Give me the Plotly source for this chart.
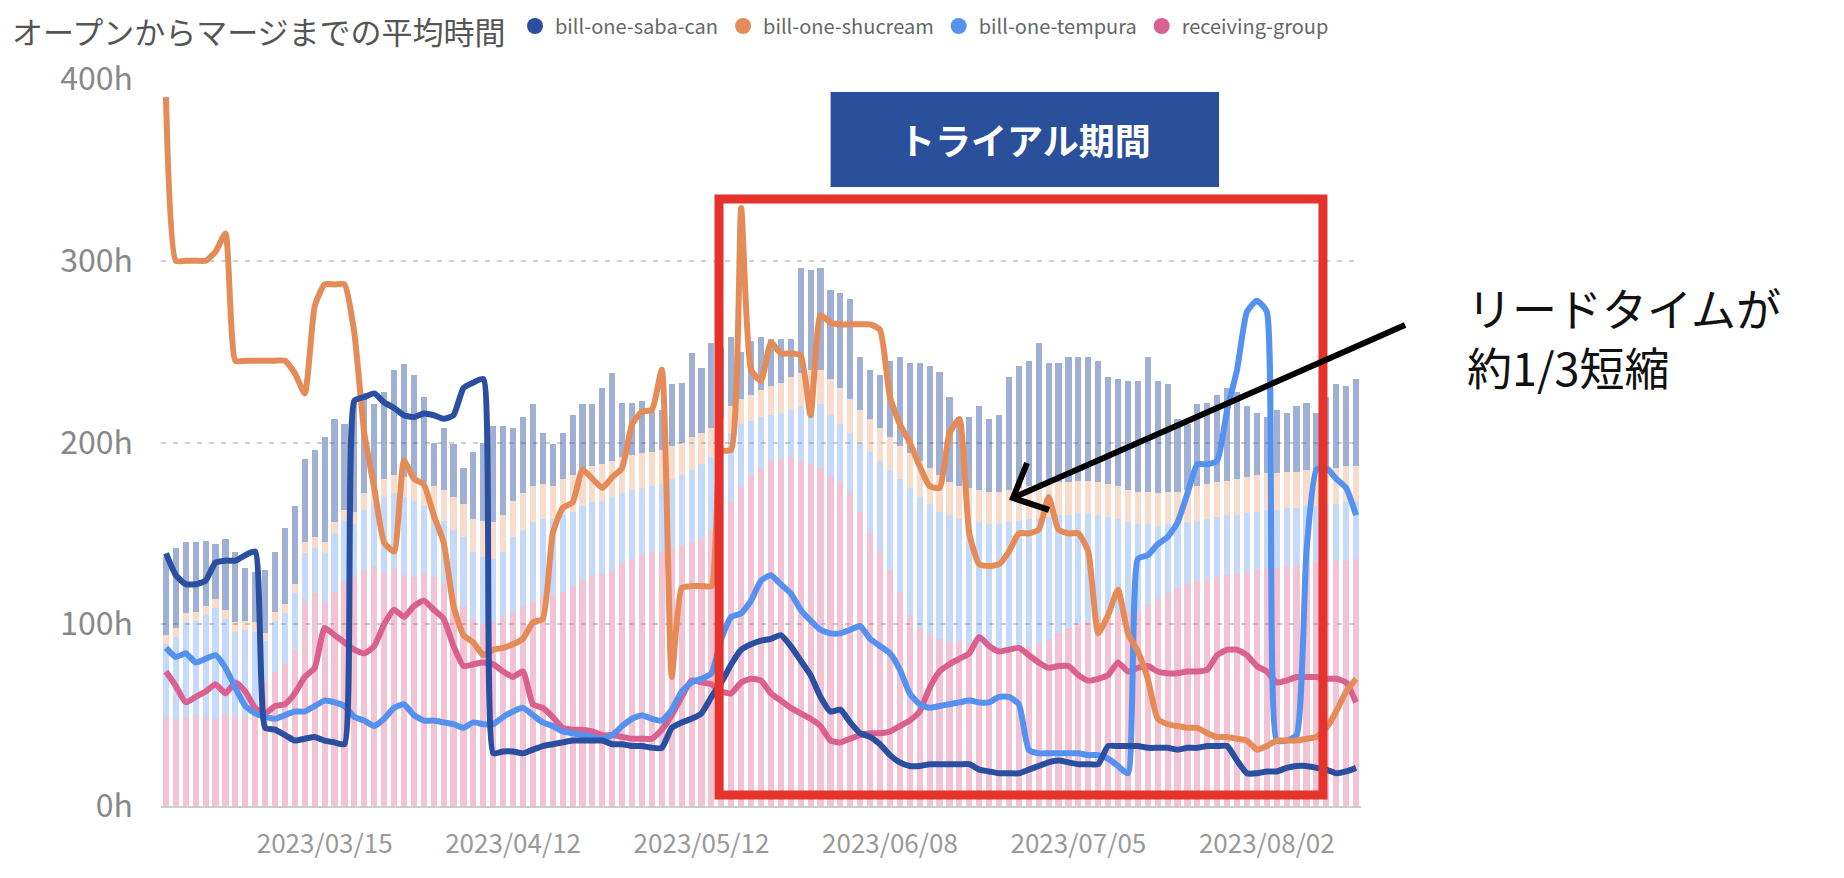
import pandas as pd
import plotly.graph_objects as go


# ------------ Data ------------
# business days (weekends and JP holidays are not in the chart)
holidays = ["2023-02-23", "2023-03-21", "2023-05-03", "2023-05-04", "2023-05-05", "2023-07-17", "2023-08-11"]
days = [d for d in pd.bdate_range("2023-02-20", "2023-08-16") if d.strftime("%Y-%m-%d") not in holidays]
dates = [d.strftime("%Y/%m/%d") for d in days]

tick_labels = ["2023/03/15", "2023/04/12", "2023/05/12", "2023/06/08", "2023/07/05", "2023/08/02"]
y_ticks = [0, 100, 200, 300, 400]
y_tick_text = ["0h", "100h", "200h", "300h", "400h"]

teams = ["bill-one-saba-can", "bill-one-shucream", "bill-one-tempura", "receiving-group"]

# lines: average hours from open to merge
saba_line = [139, 127, 122, 122, 124, 134, 135, 135, 138, 140,
             43, 42, 39, 36, 37, 38, 36, 35, 34, 223,
             225, 227, 222, 219, 215, 214, 216, 215, 213, 215,
             230, 233, 235, 29, 30, 30, 29, 31, 33, 34,
             35, 36, 36, 36, 36, 34, 34, 33, 33, 32,
             32, 43, 46, 48, 51, 60, 68, 78, 86, 89,
             91, 92, 94, 88, 80, 72, 60, 52, 53, 46,
             40, 38, 34, 28, 24, 22, 22, 23, 23, 23,
             23, 23, 20, 19, 18, 18, 18, 20, 22, 24,
             25, 24, 23, 23, 23, 33, 33, 33, 33, 32,
             32, 32, 31, 32, 32, 33, 33, 33, 25, 18,
             18, 19, 19, 21, 22, 22, 21, 20, 18, 19,
             21]
shucream_line = [390, 300, 300, 300, 300, 305, 315, 245, 245, 245,
                 245, 245, 245, 238, 227, 275, 287, 287, 287, 260,
                 205, 175, 145, 140, 190, 180, 177, 160, 145, 110,
                 94, 90, 83, 86, 87, 89, 92, 101, 103, 150,
                 164, 167, 185, 180, 175, 181, 186, 210, 217, 218,
                 240, 71, 120, 121, 121, 121, 195, 196, 329, 240,
                 234, 255, 249, 249, 248, 215, 270, 266, 265, 265,
                 265, 265, 262, 225, 210, 200, 187, 176, 175, 205,
                 213, 150, 133, 132, 133, 140, 150, 150, 152, 170,
                 152, 150, 150, 140, 95, 105, 119, 95, 85, 70,
                 48, 45, 44, 43, 43, 40, 38, 38, 37, 36,
                 31, 33, 36, 36, 36, 37, 38, 43, 52, 63,
                 70]
tempura_line = [87, 82, 84, 79, 81, 83, 76, 65, 55, 51,
                49, 48, 50, 52, 52, 55, 58, 57, 55, 49,
                47, 44, 48, 54, 56, 50, 47, 47, 46, 45,
                43, 46, 45, 45, 49, 52, 54, 50, 46, 44,
                41, 40, 39, 38, 37, 39, 44, 48, 50, 48,
                47, 53, 63, 68, 70, 73, 92, 104, 106, 113,
                124, 127, 122, 117, 108, 102, 97, 95, 95, 97,
                99, 92, 88, 84, 75, 62, 56, 54, 55, 56,
                57, 58, 57, 57, 60, 60, 56, 31, 29, 29,
                29, 29, 29, 28, 28, 26, 22, 18, 136, 138,
                144, 148, 156, 172, 188, 188, 190, 218, 240, 272,
                278, 272, 36, 36, 39, 140, 185, 186, 180, 175,
                160]
receiving_line = [74, 66, 57, 60, 63, 67, 62, 68, 63, 54,
                  51, 55, 56, 62, 71, 76, 98, 94, 90, 86,
                  84, 88, 100, 108, 104, 110, 113, 108, 103, 88,
                  77, 78, 79, 78, 74, 71, 74, 56, 54, 49,
                  43, 42, 42, 41, 39, 39, 38, 37, 37, 37,
                  42, 50, 60, 69, 68, 67, 63, 62, 68, 70,
                  69, 62, 58, 54, 51, 48, 44, 36, 35, 37,
                  39, 40, 40, 41, 44, 47, 52, 65, 74, 78,
                  81, 84, 93, 88, 85, 86, 87, 83, 79, 76,
                  77, 77, 72, 69, 70, 72, 79, 74, 76, 77,
                  74, 73, 73, 74, 74, 75, 83, 86, 86, 83,
                  77, 74, 68, 69, 71, 71, 71, 70, 70, 68,
                  57]

# stacked bars (faded)
receiving_bar = [49, 48, 49, 50, 49, 48, 50, 49, 50, 55,
                 68, 74, 78, 86, 113, 117, 112, 118, 124, 126,
                 130, 132, 128, 131, 127, 126, 128, 126, 122, 117,
                 110, 103, 100, 102, 104, 107, 110, 112, 115, 116,
                 118, 121, 124, 127, 128, 130, 133, 136, 138, 140,
                 140, 142, 143, 145, 147, 152, 161, 168, 176, 182,
                 186, 190, 191, 192, 190, 188, 186, 182, 178, 172,
                 162, 150, 140, 130, 118, 105, 98, 94, 92, 90,
                 90, 89, 88, 87, 87, 87, 88, 88, 89, 92,
                 95, 98, 100, 102, 104, 105, 106, 107, 108, 111,
                 114, 117, 120, 122, 124, 125, 126, 127, 128, 129,
                 130, 131, 131, 132, 132, 133, 134, 134, 135, 135,
                 136]
tempura_bar = [40, 45, 52, 52, 56, 61, 53, 47, 47, 41,
               23, 28, 28, 31, 26, 25, 27, 32, 33, 29,
               33, 34, 42, 41, 43, 42, 37, 34, 35, 35,
               38, 37, 37, 34, 36, 41, 42, 44, 43, 42,
               42, 41, 41, 40, 40, 40, 39, 38, 37, 36,
               37, 38, 39, 40, 41, 40, 37, 37, 34, 30,
               28, 25, 25, 26, 30, 34, 35, 33, 32, 33,
               38, 45, 50, 55, 62, 70, 72, 72, 70, 70,
               68, 68, 68, 68, 68, 69, 69, 70, 69, 67,
               65, 62, 61, 59, 56, 54, 52, 49, 47, 44,
               40, 38, 35, 34, 33, 33, 33, 33, 32, 32,
               32, 32, 32, 32, 32, 32, 31, 32, 31, 32,
               31]
shucream_bar = [5, 5, 5, 5, 5, 5, 5, 5, 5, 5,
                4, 5, 5, 5, 6, 6, 6, 6, 6, 7,
                9, 9, 10, 10, 11, 12, 13, 16, 17, 18,
                18, 18, 20, 20, 20, 20, 20, 20, 19, 18,
                20, 20, 20, 20, 20, 20, 20, 19, 19, 19,
                19, 18, 18, 18, 17, 16, 15, 15, 14, 14,
                15, 16, 17, 18, 18, 18, 19, 20, 20, 19,
                18, 18, 18, 18, 18, 19, 20, 20, 20, 18,
                18, 18, 18, 18, 18, 18, 18, 18, 18, 18,
                18, 18, 18, 18, 18, 18, 18, 18, 18, 18,
                18, 18, 18, 18, 19, 19, 19, 19, 20, 20,
                20, 20, 20, 20, 20, 20, 20, 20, 20, 20,
                20]
saba_bar = [43, 44, 39, 38, 36, 30, 39, 39, 29, 28,
            35, 33, 42, 43, 46, 48, 58, 57, 47, 61,
            55, 46, 48, 58, 62, 57, 47, 24, 34, 29,
            20, 37, 43, 53, 49, 40, 42, 45, 28, 23,
            25, 33, 36, 34, 42, 48, 30, 29, 29, 22,
            22, 34, 33, 46, 36, 47, 39, 38, 26, 30,
            29, 26, 24, 21, 58, 55, 56, 49, 52, 55,
            29, 27, 29, 42, 49, 50, 54, 56, 57, 47,
            38, 39, 46, 40, 42, 62, 67, 69, 79, 67,
            66, 69, 68, 68, 67, 59, 59, 60, 61, 74,
            62, 59, 40, 36, 45, 45, 48, 51, 48, 39,
            34, 31, 35, 32, 36, 37, 31, 39, 46, 44,
            48]

for arr in [saba_line, shucream_line, tempura_line, receiving_line,
            receiving_bar, tempura_bar, shucream_bar, saba_bar]:
    assert len(arr) == len(dates), (len(arr), len(dates))


# ------------ Plot ------------
FONT = "Noto Sans CJK JP, Noto Sans, sans-serif"
colors = {"saba": "#2b4fa0", "shucream": "#e58b57", "tempura": "#5592ef", "receiving": "#da618f"}

fig = go.Figure()

# bars, bottom to top
for vals, col in [(receiving_bar, "rgba(218,97,143,0.38)"),
                  (tempura_bar, "rgba(85,146,239,0.34)"),
                  (shucream_bar, "rgba(229,139,87,0.30)"),
                  (saba_bar, "rgba(43,79,160,0.45)")]:
    fig.add_trace(go.Bar(x=dates, y=vals, marker_color=col, marker_line_width=0,
                         showlegend=False, hoverinfo="skip"))

for vals, col in [(receiving_line, colors["receiving"]),
                  (tempura_line, colors["tempura"]),
                  (shucream_line, colors["shucream"]),
                  (saba_line, colors["saba"])]:
    fig.add_trace(go.Scatter(x=dates, y=vals, mode="lines", showlegend=False,
                             line=dict(color=col, width=6, shape="spline", smoothing=0.5)))

# legend entries with round markers
for name, col in zip(teams, [colors["saba"], colors["shucream"], colors["tempura"], colors["receiving"]]):
    fig.add_trace(go.Scatter(x=[None], y=[None], mode="markers", name=name,
                             marker=dict(symbol="circle", size=16, color=col)))

# the page body has an 8px margin, so the figure is a bit smaller than the window
fig.update_layout(
    width=1828, height=862,
    margin=dict(l=153, r=475, t=71, b=64, autoexpand=False),
    barmode="stack", bargap=0.38,
    plot_bgcolor="white", paper_bgcolor="white",
    font=dict(family=FONT, color="#888"),
    legend=dict(orientation="h", traceorder="normal", x=0.295, xanchor="left", y=1.0729, yanchor="middle",
                font=dict(size=20, color="#666"), itemsizing="trace"),
)
fig.update_xaxes(type="category", range=[-0.5, len(dates) - 0.5], automargin=False,
                 tickmode="array", tickvals=tick_labels, ticktext=tick_labels,
                 showgrid=False, showline=True, linecolor="#cccccc", linewidth=2,
                 ticks="", tickfont=dict(size=26, color="#999"), ticklabelstandoff=14)
fig.update_yaxes(range=[0, 400], automargin=False, tickmode="array", tickvals=y_ticks, ticktext=y_tick_text,
                 showgrid=True, gridcolor="#cfcfcf", gridwidth=2, griddash="5px,7px",
                 zeroline=False, tickfont=dict(size=32, color="#888"), ticklabelstandoff=27)

# title
fig.add_annotation(text="オープンからマージまでの平均時間", xref="paper", yref="paper",
                   x=-0.1258, y=1.0674, xanchor="left", yanchor="middle", showarrow=False,
                   font=dict(size=31, color="#555"))

# trial period box + red frame
fig.add_shape(type="rect", xref="paper", yref="paper", x0=0.558, x1=0.8817, y0=0.8514, y1=0.9821,
              line=dict(width=0), fillcolor="#2a4f9b")
fig.add_annotation(text="<b>トライアル期間</b>", xref="paper", yref="paper", x=0.72, y=0.9168,
                   xanchor="center", yanchor="middle",
                   showarrow=False, font=dict(size=36, color="white"))
fig.add_shape(type="rect", xref="paper", yref="paper", x0=0.465, x1=0.9683, y0=0.0151, y1=0.835,
              line=dict(color="#e5322b", width=9), fillcolor="rgba(0,0,0,0)")

# arrow + note
fig.add_shape(type="line", xref="paper", yref="paper", x0=1.0367, y0=0.6616, x1=0.711, y1=0.4245,
              line=dict(color="black", width=6))
fig.add_shape(type="path", xref="paper", yref="paper",
              path="M 0.7217,0.4718 L 0.71,0.4237 L 0.74,0.4072",
              line=dict(color="black", width=6))
fig.add_annotation(text="リードタイムが<br>約1/3短縮", xref="paper", yref="paper",
                   x=1.0867, y=0.645, xanchor="left", yanchor="middle", align="left",
                   showarrow=False, font=dict(size=45, color="#111"))

fig.write_html("out.html")
